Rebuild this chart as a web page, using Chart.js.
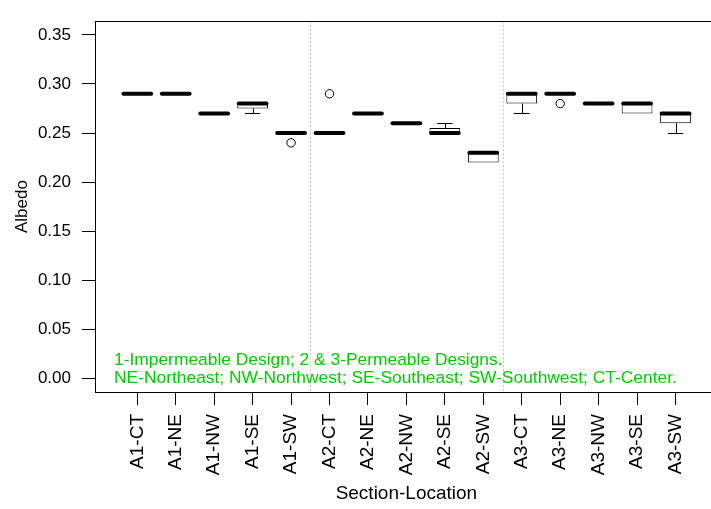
<!DOCTYPE html>
<html>
<head>
<meta charset="utf-8">
<script src="https://cdn.jsdelivr.net/npm/chart.js@4/dist/chart.umd.min.js"></script>
<style>
  html, body { margin: 0; padding: 0; background: #fff; overflow: hidden; }
  #wrap { width: 723px; height: 509px; }
</style>
</head>
<body>
<div id="wrap"><canvas id="chart" width="723" height="509"></canvas></div>
<script>
  'use strict';

  // box summary per section-location
  var categories = ['A1-CT', 'A1-NE', 'A1-NW', 'A1-SE', 'A1-SW',
    'A2-CT', 'A2-NE', 'A2-NW', 'A2-SE', 'A2-SW',
    'A3-CT', 'A3-NE', 'A3-NW', 'A3-SE', 'A3-SW'];
  var lows    = [0.29, 0.29, 0.27, 0.27,  0.25, 0.25, 0.27, 0.26, 0.25,  0.22, 0.27, 0.29, 0.28, 0.27, 0.25];
  var q1s     = [0.29, 0.29, 0.27, 0.275, 0.25, 0.25, 0.27, 0.26, 0.25,  0.22, 0.28, 0.29, 0.28, 0.27, 0.26];
  var medians = [0.29, 0.29, 0.27, 0.28,  0.25, 0.25, 0.27, 0.26, 0.25,  0.23, 0.29, 0.29, 0.28, 0.28, 0.27];
  var q3s     = [0.29, 0.29, 0.27, 0.28,  0.25, 0.25, 0.27, 0.26, 0.255, 0.23, 0.29, 0.29, 0.28, 0.28, 0.27];
  var highs   = [0.29, 0.29, 0.27, 0.28,  0.25, 0.25, 0.27, 0.26, 0.26,  0.23, 0.29, 0.29, 0.28, 0.28, 0.27];
  // outliers: category label and value
  var outlierCats = ['A1-SW', 'A2-CT', 'A3-NE'];
  var outlierVals = [0.24, 0.29, 0.28];

  var yTicks = [0, 0.05, 0.10, 0.15, 0.20, 0.25, 0.30, 0.35];
  var groupBreaks = [5.5, 10.5];
  var noteLines = ['1-Impermeable Design; 2 & 3-Permeable Designs.',
    'NE-Northeast; NW-Northwest; SE-Southeast; SW-Southwest; CT-Center.'];

  var FONT = '"Liberation Sans", Arial, Helvetica, sans-serif';
  var BOX_W = 0.8;

  var boxData = categories.map(function(c, i) {
    return { x: i + 1, y: [q1s[i], q3s[i]] };
  });
  var outlierData = outlierCats.map(function(c, i) {
    return { x: categories.indexOf(c) + 1, y: outlierVals[i] };
  });

  //medians, whiskers, group separators, frame and note
  var boxPlugin = {
    id: 'boxExtras',
    beforeDatasetsDraw: function(chart) {
      var ctx = chart.ctx, area = chart.chartArea, xs = chart.scales.x;
      ctx.save();
      ctx.strokeStyle = '#c4c4c4';
      ctx.lineWidth = 1;
      ctx.setLineDash([2, 2]);
      groupBreaks.forEach(function(b) {
        var px = Math.round(xs.getPixelForValue(b)) + 0.5;
        ctx.beginPath();
        ctx.moveTo(px, area.top);
        ctx.lineTo(px, area.bottom);
        ctx.stroke();
      });
      ctx.restore();
    },
    afterDatasetsDraw: function(chart) {
      var ctx = chart.ctx, xs = chart.scales.x, ys = chart.scales.y;
      ctx.save();
      ctx.strokeStyle = '#000';
      categories.forEach(function(c, i) {
        var xc = xs.getPixelForValue(i + 1);
        var half = (xs.getPixelForValue(i + 1 + BOX_W / 2) - xs.getPixelForValue(i + 1 - BOX_W / 2)) / 2;
        var xm = Math.round(xc) + 0.5;
        ctx.lineWidth = 1;
        ctx.lineCap = 'butt';
        // whiskers + staples
        [[q3s[i], highs[i]], [q1s[i], lows[i]]].forEach(function(p) {
          if (Math.abs(p[0] - p[1]) < 1e-9) return;
          var y0 = ys.getPixelForValue(p[0]);
          var y1 = Math.round(ys.getPixelForValue(p[1])) + 0.5;
          ctx.beginPath();
          ctx.moveTo(xm, y0);
          ctx.lineTo(xm, y1);
          ctx.moveTo(xc - half / 2, y1);
          ctx.lineTo(xc + half / 2, y1);
          ctx.stroke();
        });
        // median
        var ym = ys.getPixelForValue(medians[i]);
        ctx.lineWidth = 4;
        ctx.lineCap = 'round';
        ctx.beginPath();
        ctx.moveTo(xc - half + 1.5, ym);
        ctx.lineTo(xc + half - 1.5, ym);
        ctx.stroke();
      });
      ctx.restore();
    },
    afterDraw: function(chart) {
      var ctx = chart.ctx, area = chart.chartArea;
      ctx.save();
      ctx.strokeStyle = '#000';
      ctx.lineWidth = 1;
      ctx.strokeRect(Math.round(area.left) + 0.5, Math.round(area.top) + 0.5,
        Math.round(area.right - area.left), Math.round(area.bottom - area.top));
      ctx.fillStyle = '#00cd00';
      ctx.font = '17.4px ' + FONT;
      ctx.textBaseline = 'middle';
      ctx.textAlign = 'left';
      noteLines.forEach(function(t, k) {
        ctx.fillText(t, area.left + 19, 360 + k * 18);
      });
      ctx.restore();
    }
  };

  var ctx = document.getElementById('chart').getContext('2d');
  new Chart(ctx, {
    type: 'bar',
    data: {
      datasets: [{
        type: 'bar',
        data: boxData,
        backgroundColor: '#fff',
        borderColor: '#000',
        borderWidth: 1,
        borderSkipped: false,
        barPercentage: 1,
        categoryPercentage: BOX_W
      }, {
        type: 'scatter',
        data: outlierData,
        pointStyle: 'circle',
        pointRadius: 4.2,
        backgroundColor: '#fff',
        borderColor: '#000',
        borderWidth: 1
      }]
    },
    options: {
      responsive: false,
      animation: false,
      devicePixelRatio: 1,
      layout: { padding: { left: 0, top: 7, right: 1, bottom: 0 } },
      plugins: { legend: { display: false }, tooltip: { enabled: false } },
      scales: {
        x: {
          type: 'linear',
          min: -0.1,
          max: 16.1,
          offset: false,
          afterBuildTicks: function(scale) {
            scale.ticks = categories.map(function(c, i) { return { value: i + 1 }; });
          },
          afterFit: function(scale) { scale.height = 117; },
          ticks: {
            autoSkip: false,
            minRotation: 90,
            maxRotation: 90,
            padding: 9,
            color: '#000',
            font: { family: FONT, size: 19 },
            callback: function(v) { return categories[v - 1]; }
          },
          grid: { display: true, drawOnChartArea: false, drawTicks: true, tickLength: 13, tickColor: '#000', offset: false },
          border: { display: true, color: '#000' },
          title: { display: true, text: 'Section-Location', color: '#000', font: { family: FONT, size: 19 }, padding: { top: 0, bottom: 4 } }
        },
        y: {
          min: -0.014,
          max: 0.364,
          afterBuildTicks: function(scale) {
            scale.ticks = yTicks.map(function(v) { return { value: v }; });
          },
          afterFit: function(scale) { scale.width = 95; },
          ticks: {
            padding: 11,
            color: '#000',
            font: { family: FONT, size: 17 },
            callback: function(v) { return v.toFixed(2); }
          },
          grid: { display: true, drawOnChartArea: false, drawTicks: true, tickLength: 13, tickColor: '#000' },
          border: { display: true, color: '#000' },
          title: { display: true, text: 'Albedo', color: '#000', font: { family: FONT, size: 17 }, padding: { top: 12, bottom: 0 } }
        }
      }
    },
    plugins: [boxPlugin]
  });
</script>
</body>
</html>
